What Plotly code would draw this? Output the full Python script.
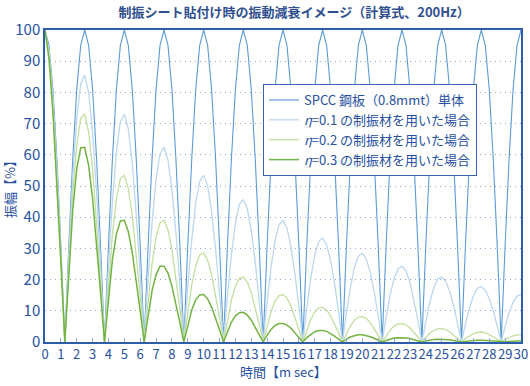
import plotly.graph_objects as go

# time axis [ms]
t_ms = [
    0, 0.25, 0.5, 0.75, 1, 1.25, 1.5, 1.75, 2, 2.25,
    2.5, 2.75, 3, 3.25, 3.5, 3.75, 4, 4.25, 4.5, 4.75,
    5, 5.25, 5.5, 5.75, 6, 6.25, 6.5, 6.75, 7, 7.25,
    7.5, 7.75, 8, 8.25, 8.5, 8.75, 9, 9.25, 9.5, 9.75,
    10, 10.25, 10.5, 10.75, 11, 11.25, 11.5, 11.75, 12, 12.25,
    12.5, 12.75, 13, 13.25, 13.5, 13.75, 14, 14.25, 14.5, 14.75,
    15, 15.25, 15.5, 15.75, 16, 16.25, 16.5, 16.75, 17, 17.25,
    17.5, 17.75, 18, 18.25, 18.5, 18.75, 19, 19.25, 19.5, 19.75,
    20, 20.25, 20.5, 20.75, 21, 21.25, 21.5, 21.75, 22, 22.25,
    22.5, 22.75, 23, 23.25, 23.5, 23.75, 24, 24.25, 24.5, 24.75,
    25, 25.25, 25.5, 25.75, 26, 26.25, 26.5, 26.75, 27, 27.25,
    27.5, 27.75, 28, 28.25, 28.5, 28.75, 29, 29.25, 29.5, 29.75,
    30,
]

# SPCC steel plate alone [%]
spcc = [
    100, 95.1, 80.9, 58.8, 30.9, 0, 30.9, 58.8, 80.9, 95.1,
    100, 95.1, 80.9, 58.8, 30.9, 0, 30.9, 58.8, 80.9, 95.1,
    100, 95.1, 80.9, 58.8, 30.9, 0, 30.9, 58.8, 80.9, 95.1,
    100, 95.1, 80.9, 58.8, 30.9, 0, 30.9, 58.8, 80.9, 95.1,
    100, 95.1, 80.9, 58.8, 30.9, 0, 30.9, 58.8, 80.9, 95.1,
    100, 95.1, 80.9, 58.8, 30.9, 0, 30.9, 58.8, 80.9, 95.1,
    100, 95.1, 80.9, 58.8, 30.9, 0, 30.9, 58.8, 80.9, 95.1,
    100, 95.1, 80.9, 58.8, 30.9, 0, 30.9, 58.8, 80.9, 95.1,
    100, 95.1, 80.9, 58.8, 30.9, 0, 30.9, 58.8, 80.9, 95.1,
    100, 95.1, 80.9, 58.8, 30.9, 0, 30.9, 58.8, 80.9, 95.1,
    100, 95.1, 80.9, 58.8, 30.9, 0, 30.9, 58.8, 80.9, 95.1,
    100, 95.1, 80.9, 58.8, 30.9, 0, 30.9, 58.8, 80.9, 95.1,
    100,
]

# eta = 0.1 [%]
eta01 = [
    100, 93.6, 78.4, 56.1, 29.0, 0, 28.1, 52.7, 71.3, 82.6,
    85.5, 80.0, 67.0, 47.9, 24.8, 0, 24.0, 45.0, 61.0, 70.6,
    73.0, 68.4, 57.3, 41.0, 21.2, 0, 20.5, 38.5, 52.1, 60.3,
    62.4, 58.4, 48.9, 35.0, 18.1, 0, 17.6, 32.9, 44.5, 51.5,
    53.4, 50.0, 41.8, 29.9, 15.5, 0, 15.0, 28.1, 38.1, 44.1,
    45.6, 42.7, 35.7, 25.6, 13.2, 0, 12.8, 24.0, 32.5, 37.6,
    39.0, 36.5, 30.5, 21.9, 11.3, 0, 11.0, 20.5, 27.8, 32.2,
    33.3, 31.2, 26.1, 18.7, 9.7, 0, 9.4, 17.5, 23.8, 27.5,
    28.5, 26.6, 22.3, 16.0, 8.3, 0, 8.0, 15.0, 20.3, 23.5,
    24.3, 22.8, 19.1, 13.6, 7.1, 0, 6.8, 12.8, 17.4, 20.1,
    20.8, 19.5, 16.3, 11.7, 6.0, 0, 5.8, 10.9, 14.8, 17.2,
    17.8, 16.6, 13.9, 10.0, 5.2, 0, 5.0, 9.4, 12.7, 14.7,
    15.2,
]

# eta = 0.2 [%]
eta02 = [
    100, 92.2, 76.0, 53.5, 27.3, 0, 25.6, 47.2, 62.9, 71.7,
    73.0, 67.3, 55.5, 39.1, 19.9, 0, 18.7, 34.5, 46.0, 52.4,
    53.4, 49.2, 40.5, 28.5, 14.5, 0, 13.7, 25.2, 33.6, 38.2,
    39.0, 35.9, 29.6, 20.8, 10.6, 0, 10.0, 18.4, 24.5, 27.9,
    28.5, 26.2, 21.6, 15.2, 7.8, 0, 7.3, 13.4, 17.9, 20.4,
    20.8, 19.2, 15.8, 11.1, 5.7, 0, 5.3, 9.8, 13.1, 14.9,
    15.2, 14.0, 11.5, 8.1, 4.1, 0, 3.9, 7.2, 9.6, 10.9,
    11.1, 10.2, 8.4, 5.9, 3.0, 0, 2.8, 5.2, 7.0, 8.0,
    8.1, 7.5, 6.2, 4.3, 2.2, 0, 2.1, 3.8, 5.1, 5.8,
    5.9, 5.5, 4.5, 3.2, 1.6, 0, 1.5, 2.8, 3.7, 4.2,
    4.3, 4.0, 3.3, 2.3, 1.2, 0, 1.1, 2.0, 2.7, 3.1,
    3.2, 2.9, 2.4, 1.7, 0.9, 0, 0.8, 1.5, 2.0, 2.3,
    2.3,
]

# eta = 0.3 [%]
eta03 = [
    100, 90.7, 73.6, 51.0, 25.6, 0, 23.3, 42.3, 55.5, 62.2,
    62.4, 56.6, 46.0, 31.9, 16.0, 0, 14.5, 26.4, 34.6, 38.8,
    39.0, 35.4, 28.7, 19.9, 10.0, 0, 9.1, 16.5, 21.6, 24.3,
    24.3, 22.1, 17.9, 12.4, 6.2, 0, 5.7, 10.3, 13.5, 15.1,
    15.2, 13.8, 11.2, 7.7, 3.9, 0, 3.5, 6.4, 8.4, 9.4,
    9.5, 8.6, 7.0, 4.8, 2.4, 0, 2.2, 4.0, 5.3, 5.9,
    5.9, 5.4, 4.4, 3.0, 1.5, 0, 1.4, 2.5, 3.3, 3.7,
    3.7, 3.4, 2.7, 1.9, 0.9, 0, 0.9, 1.6, 2.0, 2.3,
    2.3, 2.1, 1.7, 1.2, 0.6, 0, 0.5, 1.0, 1.3, 1.4,
    1.4, 1.3, 1.1, 0.7, 0.4, 0, 0.3, 0.6, 0.8, 0.9,
    0.9, 0.8, 0.7, 0.5, 0.2, 0, 0.2, 0.4, 0.5, 0.6,
    0.6, 0.5, 0.4, 0.3, 0.1, 0, 0.1, 0.2, 0.3, 0.3,
    0.4,
]

series_names = [
    "SPCC 鋼板（0.8mmt）単体",
    "<i>η</i>=0.1 の制振材を用いた場合",
    "<i>η</i>=0.2 の制振材を用いた場合",
    "<i>η</i>=0.3 の制振材を用いた場合",
]
series_values = [spcc, eta01, eta02, eta03]
series_colors = ["#5b9bd5", "#bdd7ee", "#c3df9f", "#72b344"]
series_widths = [1.1, 1.3, 1.3, 1.5]

x_ticks = list(range(0, 31))
y_ticks = list(range(0, 101, 10))

TXT = "#27509e"
FONT = "Noto Sans CJK JP, Noto Sans, sans-serif"

fig = go.Figure()
for name, vals, col, w in zip(series_names, series_values, series_colors, series_widths):
    fig.add_trace(go.Scatter(
        x=t_ms, y=vals, mode="lines", name=name,
        line=dict(color=col, width=w),
    ))

fig.update_layout(
    width=530, height=386,
    margin=dict(l=45, r=9, t=30, b=44, autoexpand=False),
    paper_bgcolor="white", plot_bgcolor="white",
    font=dict(family=FONT, color=TXT, size=13),
    title=dict(
        text="<b>制振シート貼付け時の振動減衰イメージ（計算式、200Hz）</b>",
        x=0.555, xanchor="center", yref="container", y=0.968, yanchor="middle",
        font=dict(size=13, color="#2f4f8f"),
    ),
    showlegend=True,
    legend=dict(
        x=0.458, y=0.827, xanchor="left", yanchor="top",
        bgcolor="white", bordercolor="#3a64b0", borderwidth=1,
        font=dict(size=13, color=TXT),
        tracegroupgap=0, itemwidth=30,
    ),
    annotations=[dict(
        text="時間【m sec】", xref="paper", yref="paper",
        x=0.5, y=-0.095, xanchor="center", yanchor="middle",
        showarrow=False, font=dict(size=13, color=TXT),
    )],
)

fig.update_xaxes(
    range=[0, 30], tickmode="array", tickvals=x_ticks,
    ticktext=[str(v) for v in x_ticks], tickangle=0,
    ticks="inside", ticklen=4, tickcolor="#90a8d8", tickwidth=1,
    showgrid=False, zeroline=False, automargin=False,
    showline=True, linecolor="#2f5ca8", linewidth=1.5, mirror=True,
    tickfont=dict(size=13, color=TXT),
)
fig.update_yaxes(
    range=[0, 100], tickmode="array", tickvals=y_ticks,
    ticks="", showgrid=True, gridcolor="#8ea6d6", griddash="1px,4px", gridwidth=1.2,
    zeroline=False, automargin=False,
    showline=True, linecolor="#2f5ca8", linewidth=1.5, mirror=True,
    tickfont=dict(size=15, color=TXT),
    title=dict(text="振幅【%】", font=dict(size=13, color=TXT)),
)

fig.write_html(
    "out.html",
    config={"displayModeBar": False},
    post_script="document.body.style.margin='0';document.body.style.overflow='hidden';",
)
